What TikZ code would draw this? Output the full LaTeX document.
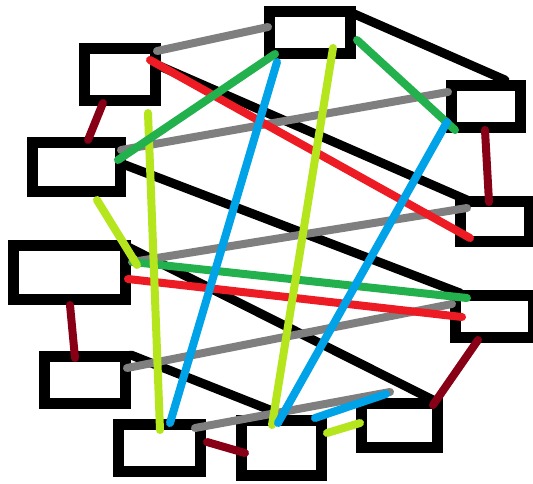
\documentclass[tikz,border=0pt]{standalone}
\begin{document}
\begin{tikzpicture}[x=1pt,y=-1pt,
  box/.style={draw=black,line width=11pt,rectangle,inner sep=0pt,outer sep=0pt,fill=white},
  link/.style={line width=8pt,line cap=round},
  blk/.style={link,line width=9pt,draw=black},
  gry/.style={link,draw=mpgray},
  rd/.style={link,draw=mpred},
  grn/.style={link,draw=mpgreen},
  ylw/.style={link,draw=mpyellow},
  blu/.style={link,draw=mpblue},
  mrn/.style={link,draw=mpmaroon}]
\definecolor{mpgray}{RGB}{127,127,127}
\definecolor{mpred}{RGB}{237,28,36}
\definecolor{mpgreen}{RGB}{34,177,76}
\definecolor{mpblue}{RGB}{0,162,232}
\definecolor{mpyellow}{RGB}{181,230,29}
\definecolor{mpmaroon}{RGB}{136,0,21}
\useasboundingbox (0,0) rectangle (533,483);
\fill[white] (0,0) rectangle (533,483);
% boxes
\node[box,minimum width=81pt,minimum height=42pt] (T) at (309.5,32) {};
\node[box,minimum width=71pt,minimum height=52pt] (A) at (120,74.5) {};
\node[box,minimum width=88pt,minimum height=49pt] (B) at (76.5,167) {};
\node[box,minimum width=112pt,minimum height=54pt] (C) at (69.5,272.5) {};
\node[box,minimum width=81pt,minimum height=47pt] (D) at (85,380) {};
\node[box,minimum width=82pt,minimum height=47pt] (E) at (159.5,448) {};
\node[box,minimum width=80pt,minimum height=55pt] (F) at (281.5,448) {};
\node[box,minimum width=76pt,minimum height=44pt] (G) at (399.5,425.5) {};
\node[box,minimum width=78pt,minimum height=42pt] (H) at (494.5,316.5) {};
\node[box,minimum width=69pt,minimum height=40pt] (I) at (495,221.5) {};
\node[box,minimum width=69pt,minimum height=42pt] (J) at (486,106.5) {};
% connector end points
\coordinate (tb) at (352,13);   \coordinate (jb) at (505,80);
\coordinate (ab) at (155,64);   \coordinate (ib) at (467,200);
\coordinate (bb) at (120,163);  \coordinate (hb) at (460,293);
\coordinate (cb) at (128,247);  \coordinate (gb) at (433,400);
\coordinate (db) at (131,355);  \coordinate (fb) at (270,410);
\coordinate (ag) at (157,51);   \coordinate (tg) at (268,27);
\coordinate (bg) at (121,150);  \coordinate (jg) at (448,92);
\coordinate (cg) at (132,262);  \coordinate (ig) at (467,208);
\coordinate (dg) at (127,368);  \coordinate (hg) at (452,304);
\coordinate (eg) at (195,428);  \coordinate (gg) at (390,392);
\coordinate (ar) at (150,60);   \coordinate (ir) at (470,238);
\coordinate (cr) at (128,279);  \coordinate (hr) at (462,317);
\coordinate (bn) at (118,160);  \coordinate (tn) at (275,54);
\coordinate (tn2) at (357,40);  \coordinate (jn) at (455,130);
\coordinate (cn) at (133,262);  \coordinate (hn) at (467,298);
\coordinate (by) at (97,200);   \coordinate (cy) at (137,265);
\coordinate (ay) at (148,113);  \coordinate (ey) at (160,430);
\coordinate (ty) at (333,48);   \coordinate (fy) at (272,425);
\coordinate (fy2) at (327,433); \coordinate (gy) at (360,423);
\coordinate (tu) at (277,62);   \coordinate (eu) at (170,423);
\coordinate (ju) at (447,122);  \coordinate (fu) at (278,423);
\coordinate (fu2) at (315,418); \coordinate (gu) at (386,394);
\coordinate (am) at (103,103);  \coordinate (bm) at (88,140);
\coordinate (cm) at (70,305);   \coordinate (dm) at (75,358);
\coordinate (jm) at (485,130);  \coordinate (im) at (489,202);
\coordinate (hm) at (478,340);  \coordinate (gm) at (433,405);
\coordinate (em) at (207,442);  \coordinate (fm) at (245,453);
% black
\draw[blk] (tb) -- (jb);
\draw[blk] (ab) -- (ib);
\draw[blk] (bb) -- (hb);
\draw[blk] (cb) -- (gb);
\draw[blk] (db) -- (fb);
% gray
\draw[gry] (ag) -- (tg);
\draw[gry] (bg) -- (jg);
\draw[gry] (cg) -- (ig);
\draw[gry] (dg) -- (hg);
\draw[gry] (eg) -- (gg);
% red
\draw[rd] (ar) -- (ir);
\draw[rd] (cr) -- (hr);
% green
\draw[grn] (tn2) -- (jn);
\draw[grn] (cn) -- (hn);
% yellow
\draw[ylw] (by) -- (cy);
\draw[ylw] (ay) -- (ey);
\draw[ylw] (ty) -- (fy);
\draw[ylw] (fy2) -- (gy);
% blue
\draw[blu] (tu) -- (eu);
\draw[blu] (ju) -- (fu);
\draw[blu] (fu2) -- (gu);
\draw[grn] (bn) -- (tn);
% maroon
\draw[mrn] (am) -- (bm);
\draw[mrn] (cm) -- (dm);
\draw[mrn] (jm) -- (im);
\draw[mrn] (hm) -- (gm);
\draw[mrn] (em) -- (fm);
\end{tikzpicture}
\end{document}
